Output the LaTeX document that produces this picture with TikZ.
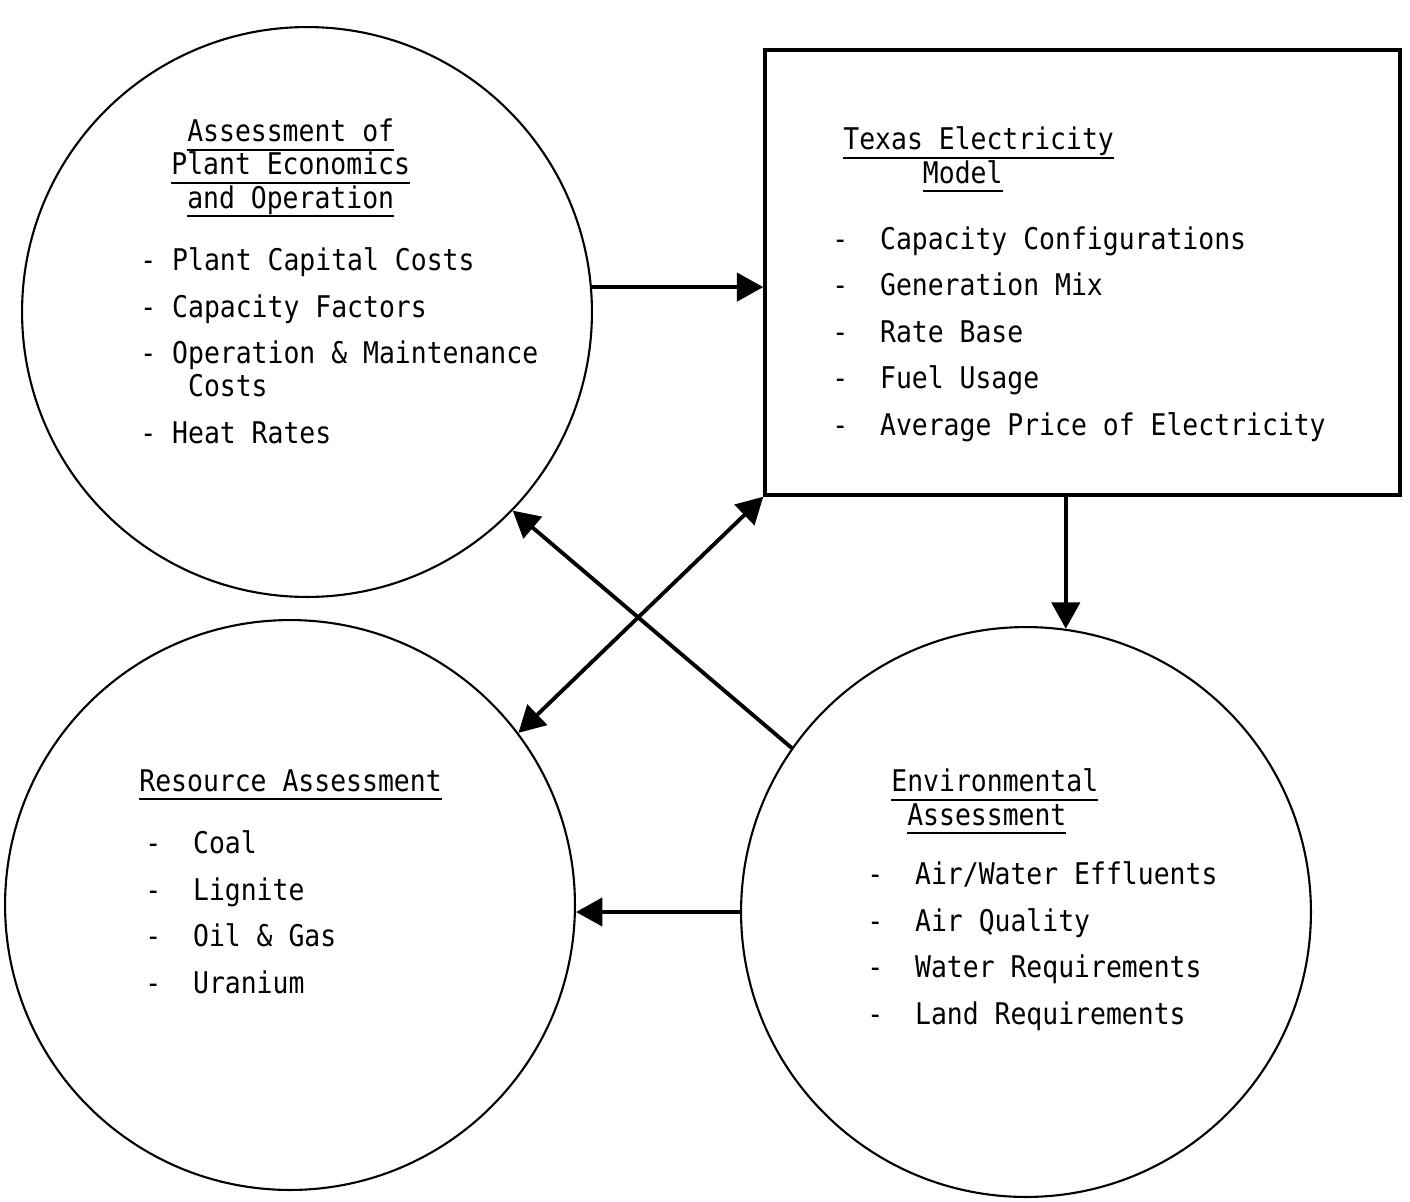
\documentclass[tikz,border=0pt]{standalone}
\usepackage{fontspec}
\usepackage{tikz}
\usetikzlibrary{arrows.meta}
\newfontfamily\typer[FakeStretch=0.885]{DejaVu Sans Mono}
\newcommand{\ulin}[1]{\setbox0=\hbox{#1}\rlap{\rule[-5pt]{\wd0}{1.1pt}}\box0}

\begin{document}
\begin{tikzpicture}[
    x=0.02cm,y=-0.02cm,
    bubble/.style={circle,draw,line width=1.2pt,minimum size=11.4cm,inner sep=0pt},
    modelbox/.style={draw,line width=2pt,minimum width=12.7cm,minimum height=8.9cm,inner sep=0pt},
    head/.style={font=\typer\fontsize{17}{18.8}\selectfont,align=left,inner sep=0pt,anchor=base west},
    items/.style={font=\typer\fontsize{17}{26.4}\selectfont,align=left,inner sep=0pt,anchor=base west},
    arr/.style={-{Triangle[length=15pt,width=16pt]},line width=2.2pt},
    arrboth/.style={{Triangle[length=15pt,width=16pt]}-{Triangle[length=15pt,width=16pt]},line width=2.2pt}
  ]
    \useasboundingbox (0,0) rectangle (1410,1201);
    \node[bubble] (plant) at (307,312) {};
    \node[modelbox] (texas) at (1082.5,272.5) {};
    \node[bubble] (resource) at (290,905) {};
    \node[bubble] (env) at (1026,912) {};
    % text blocks, placed by the baseline of their last line
    \node[head] (plantH) at (171,208) {\phantom{P}\ulin{Assessment of}\\\ulin{Plant Economics}\\\phantom{P}\ulin{and Operation}};
    \node[items] (plantL) at (140,443) {- Plant Capital Costs\\- Capacity Factors\\- Operation \& Maintenance\\[-0.27cm]\phantom{xxx}Costs\\- Heat Rates};
    \node[head] (texasH) at (843,183) {\ulin{Texas Electricity}\\\phantom{Texas}\ulin{Model}};
    \node[items] (texasL) at (832,435) {-~~Capacity Configurations\\-~~Generation Mix\\-~~Rate Base\\-~~Fuel Usage\\-~~Average Price of Electricity};
    \node[head] (resourceH) at (139,791) {\ulin{Resource Assessment}};
    \node[items] (resourceL) at (145,993) {-~~Coal\\-~~Lignite\\-~~Oil \& Gas\\-~~Uranium};
    \node[head] (envH) at (891,825) {\ulin{Environmental}\\\phantom{E}\ulin{Assessment}};
    \node[items] (envL) at (867,1024) {-~~Air/Water Effluents\\-~~Air Quality\\-~~Water Requirements\\-~~Land Requirements};
    % connectors
    \draw[arr] (plant.5) -- (plant.5 -| texas.west);
    \draw[arr] (env.82 |- texas.south) -- (env.82);
    \draw[arr] (env.145) -- (plant.-44);
    \draw[arrboth] (resource.37.5) -- (texas.south west);
    \draw[arr] (env.west) -- (env.west -| resource.east);
\end{tikzpicture}
\end{document}
